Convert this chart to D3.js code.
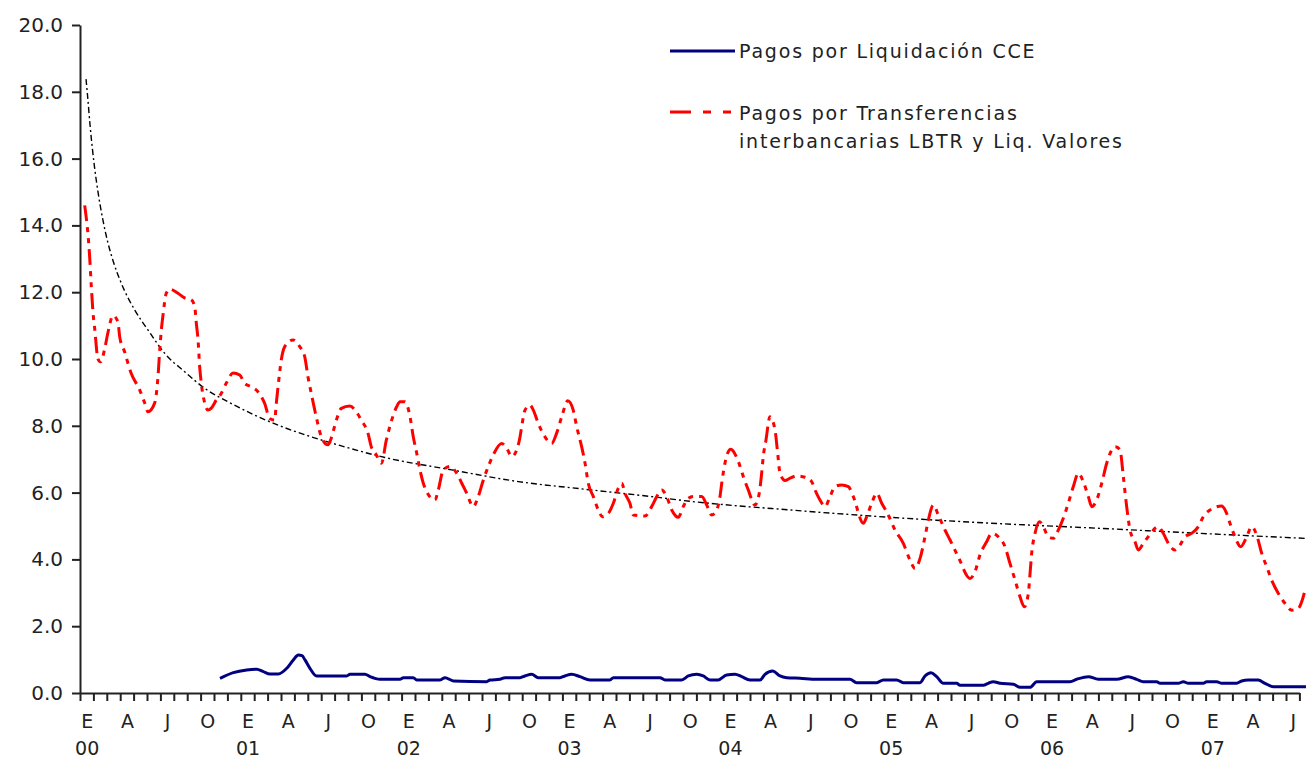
<!DOCTYPE html>
<html>
<head>
<meta charset="utf-8">
<script src="https://cdn.jsdelivr.net/npm/d3@7"></script>
<style>
  html, body { margin: 0; padding: 0; background: #fff; }
  svg { display: block; }
  text { font-family: "DejaVu Sans", Verdana, sans-serif; fill: #222; }
</style>
</head>
<body>
<svg id="chart" width="1306" height="759"></svg>
<script>
// ---- Data (month index: 0 = Enero 2000) ----
const monthLabels = ["E", "A", "J", "O"];           // shown every 3 months
const yearLabels = ["00", "01", "02", "03", "04", "05", "06", "07"];
const nMonths = 91;                                   // Ene 2000 .. Jul 2007
const yTicks = [0, 2, 4, 6, 8, 10, 12, 14, 16, 18, 20];

const seriesNames = [
  "Pagos por Liquidación CCE",
  "Pagos por Transferencias",
  "interbancarias LBTR y Liq. Valores"
];

// Pagos por Transferencias interbancarias LBTR y Liq. Valores
const lbtrMonth = [0.35,0.72,0.84,0.97,1.10,1.34,1.54,1.84,2.09,2.46,2.84,2.96,3.34,3.81,4.46,4.83,5.07,5.57,5.82,5.95,6.07,6.19,6.44,6.69,7.31,7.81,8.31,8.56,8.68,8.81,8.93,9.05,9.31,9.55,9.80,10.17,10.54,10.92,11.42,11.92,12.29,12.78,13.28,13.78,14.16,14.53,14.65,14.78,15.02,15.28,15.90,16.40,16.77,17.01,17.26,17.63,18.01,18.51,18.75,19.13,19.50,20.13,20.62,20.99,21.49,21.74,22.11,22.49,22.86,23.26,23.63,23.88,24.25,24.63,24.87,25.13,25.37,25.62,25.87,26.49,26.74,27.11,27.61,28.11,28.49,28.86,29.35,29.72,30.10,30.47,30.84,31.47,31.84,32.22,32.59,32.84,32.96,33.21,33.58,33.83,34.20,34.70,35.20,35.57,35.95,36.40,36.81,37.07,37.44,37.69,37.93,38.31,38.68,38.98,39.43,39.80,40.17,40.43,40.67,41.04,41.29,42.16,42.66,43.04,43.41,43.78,44.16,44.65,45.02,45.40,45.77,46.40,46.77,47.14,47.51,47.76,47.89,48.13,48.56,49.13,49.50,49.87,50.37,50.69,50.87,50.99,51.19,51.49,51.87,52.04,52.24,52.61,52.99,53.49,54.10,54.60,54.85,55.22,55.60,55.97,56.34,56.84,57.34,57.71,58.46,58.71,59.08,59.46,59.83,60.32,60.82,61.44,61.94,62.31,62.69,63.06,63.31,63.68,64.05,64.55,64.93,65.54,66.42,66.79,67.16,67.66,68.04,68.53,69.03,69.40,69.78,70.15,70.47,70.77,70.90,71.02,71.27,71.59,71.89,72.26,72.63,73.01,73.38,73.75,74.13,74.50,74.87,75.25,75.50,75.87,76.25,76.62,77.24,77.61,77.86,78.11,78.36,78.73,78.98,79.35,79.72,80.47,80.84,81.22,81.72,82.09,82.46,82.96,83.46,83.83,84.33,85.20,85.57,85.82,86.19,86.62,87.07,87.44,87.81,88.19,88.56,88.93,89.43,89.93,90.43,90.92,91.17,91.42];
const lbtrValue = [14.6,13.06,12.2,11.4,10.9,10.0,9.92,10.3,10.8,11.3,11.1,10.67,10.2,9.58,9.07,8.68,8.42,8.68,9.47,10.27,10.87,11.3,11.97,12.09,11.97,11.83,11.77,11.57,11.07,10.57,9.77,9.28,8.68,8.47,8.53,8.77,8.97,9.28,9.58,9.52,9.27,9.17,9.02,8.67,8.22,8.17,8.68,9.17,9.97,10.37,10.57,10.37,10.07,9.47,8.97,8.27,7.67,7.43,7.63,8.17,8.52,8.59,8.42,8.17,7.78,7.37,7.13,6.88,7.57,8.17,8.57,8.72,8.72,8.27,7.67,7.18,6.68,6.28,6.03,5.78,6.08,6.68,6.78,6.58,6.28,5.98,5.58,5.88,6.38,6.78,7.13,7.47,7.33,7.08,7.28,7.67,7.97,8.47,8.62,8.47,8.07,7.67,7.47,7.78,8.27,8.75,8.47,7.97,7.37,6.88,6.28,5.88,5.48,5.28,5.38,5.68,6.13,6.28,5.98,5.68,5.33,5.30,5.58,5.88,6.08,5.88,5.48,5.26,5.58,5.83,5.88,5.88,5.63,5.33,5.48,5.88,6.28,6.88,7.30,6.93,6.48,6.08,5.63,5.98,6.58,7.08,7.57,8.27,7.87,7.28,6.58,6.36,6.43,6.50,6.46,6.33,6.08,5.78,5.58,5.88,6.18,6.23,6.18,5.88,5.08,5.28,5.68,5.98,5.68,5.33,4.88,4.48,3.98,3.73,4.03,4.68,5.18,5.63,5.33,4.88,4.58,4.08,3.43,3.63,4.13,4.53,4.78,4.68,4.38,3.88,3.38,2.88,2.58,2.98,3.58,4.18,4.78,5.13,4.98,4.68,4.63,4.88,5.23,5.68,6.18,6.58,6.33,5.88,5.58,5.78,6.28,6.88,7.37,7.28,6.48,5.58,4.88,4.53,4.28,4.48,4.68,4.98,4.78,4.48,4.28,4.43,4.68,4.78,4.98,5.28,5.48,5.60,5.38,5.08,4.68,4.38,4.68,4.98,4.73,4.18,3.78,3.38,2.98,2.68,2.48,2.53,2.73,3.08];

// Pagos por Liquidación CCE
const cceMonth = [10.45,11.44,12.44,13.19,13.68,14.18,14.80,15.43,15.92,16.29,16.57,16.79,17.16,17.66,19.90,20.15,21.27,21.64,22.39,23.88,24.13,24.87,25.13,26.87,27.24,27.86,30.35,30.60,31.34,31.72,32.84,33.21,33.71,34.20,35.82,36.19,36.69,37.31,38.06,39.55,39.80,43.28,43.66,44.90,45.40,46.02,46.51,47.01,47.63,48.26,48.88,49.38,50.00,50.75,51.12,51.69,52.24,52.74,53.73,54.98,57.46,57.96,59.46,59.95,60.95,61.44,62.69,63.06,63.51,63.93,64.43,65.43,65.67,67.41,67.78,68.16,68.66,69.65,70.15,70.90,71.40,73.88,74.38,75.25,75.99,77.37,78.23,78.86,79.35,80.35,80.60,81.96,82.34,82.71,83.83,84.08,84.83,85.20,86.32,86.69,87.19,87.93,88.43,89.05,91.49];
const cceValue = [0.44,0.61,0.69,0.71,0.64,0.57,0.57,0.74,0.99,1.14,1.12,0.99,0.74,0.51,0.51,0.56,0.56,0.49,0.41,0.41,0.46,0.46,0.39,0.39,0.46,0.36,0.34,0.39,0.41,0.46,0.46,0.51,0.56,0.46,0.46,0.51,0.56,0.49,0.39,0.39,0.46,0.46,0.39,0.39,0.51,0.56,0.51,0.39,0.39,0.54,0.56,0.49,0.39,0.39,0.56,0.66,0.51,0.46,0.44,0.41,0.41,0.31,0.31,0.39,0.39,0.31,0.31,0.51,0.61,0.49,0.29,0.29,0.23,0.23,0.29,0.34,0.29,0.26,0.17,0.17,0.34,0.34,0.41,0.49,0.41,0.41,0.49,0.41,0.34,0.34,0.29,0.29,0.34,0.29,0.29,0.34,0.34,0.29,0.29,0.36,0.39,0.39,0.29,0.19,0.19];

// Tendencia (LBTR)
const trendMonth = [0.45,0.55,0.75,1.07,1.34,1.72,2.09,2.46,3.08,4.08,5.07,6.32,7.81,9.31,11.04,13.04,14.78,17.26,19.75,22.76,27.74,32.71,37.69,42.66,45.52,52.99,60.45,68.66,76.12,83.58,91.42];
const trendValue = [18.38,17.95,17.0,15.79,15.01,14.14,13.47,12.95,12.27,11.47,10.87,10.17,9.62,9.12,8.72,8.32,8.02,7.67,7.37,7.05,6.68,6.33,6.10,5.88,5.74,5.48,5.26,5.07,4.93,4.78,4.63];

// ---- Drawing ----
const svg = d3.select("#chart");
const x = d3.scaleLinear().domain([0, nMonths]).range([80, 1299.4]);
const y = d3.scaleLinear().domain([0, 20]).range([693, 25]);

// Y axis
const yAxis = svg.append("g").attr("transform", "translate(80,0)")
  .call(d3.axisLeft(y).tickValues(yTicks).tickFormat(d3.format(".1f")).tickSize(8).tickSizeOuter(0).tickPadding(9));
yAxis.select(".domain").attr("stroke", "#222").attr("stroke-width", 2);
yAxis.selectAll(".tick line").attr("stroke", "#222").attr("stroke-width", 2);
yAxis.selectAll("text").style("font-size", "20px").attr("fill", "#222").attr("font-family", null);

// X axis: month ticks
const xAxis = svg.append("g").attr("transform", "translate(0,693)")
  .call(d3.axisBottom(x).tickValues(d3.range(0, nMonths + 1)).tickFormat("").tickSize(8).tickSizeOuter(0));
xAxis.select(".domain").attr("stroke", "#222").attr("stroke-width", 2);
xAxis.selectAll(".tick line").attr("stroke", "#222").attr("stroke-width", 2);

// Month letters (centred in each month)
const quarterMonths = d3.range(0, nMonths, 3);
const mAxis = svg.append("g").attr("transform", "translate(0,693)")
  .call(d3.axisBottom(x).tickValues(quarterMonths.map(m => m + 0.5))
    .tickFormat((d) => monthLabels[Math.round(d - 0.5) / 3 % 4]).tickSize(0).tickPadding(22));
mAxis.select(".domain").remove();
mAxis.selectAll("text").style("font-size", "19px").attr("fill", "#222").attr("font-family", null);

// Year labels under each "E"
const yrAxis = svg.append("g").attr("transform", "translate(0,693)")
  .call(d3.axisBottom(x).tickValues(yearLabels.map((_, i) => i * 12 + 0.5))
    .tickFormat((d, i) => yearLabels[i]).tickSize(0).tickPadding(49));
yrAxis.select(".domain").remove();
yrAxis.selectAll("text").style("font-size", "19px").attr("fill", "#222").attr("font-family", null);

// Lines
const trendData = trendMonth.map((m, i) => [m, trendValue[i]]);
svg.append("path")
  .attr("d", d3.line().x(d => x(d[0])).y(d => y(d[1])).curve(d3.curveMonotoneX)(trendData))
  .attr("fill", "none").attr("stroke", "#000").attr("stroke-width", 1.4)
  .attr("stroke-dasharray", "6,3,2,3");

const lbtrData = lbtrMonth.map((m, i) => [m, lbtrValue[i]]);
svg.append("path")
  .attr("d", d3.line().x(d => x(d[0])).y(d => y(d[1])).curve(d3.curveMonotoneX)(lbtrData))
  .attr("fill", "none").attr("stroke", "#ff0000").attr("stroke-width", 3)
  .attr("stroke-dasharray", "16,6,5,6,5,6");

const cceData = cceMonth.map((m, i) => [m, cceValue[i]]);
svg.append("path")
  .attr("d", d3.line().x(d => x(d[0])).y(d => y(d[1])).curve(d3.curveMonotoneX)(cceData))
  .attr("fill", "none").attr("stroke", "#000080").attr("stroke-width", 3);

// Legend
const lg = svg.append("g");
lg.append("line").attr("x1", 670).attr("x2", 735).attr("y1", 51).attr("y2", 51)
  .attr("stroke", "#000080").attr("stroke-width", 3);
lg.append("line").attr("x1", 670).attr("x2", 735).attr("y1", 112).attr("y2", 112)
  .attr("stroke", "#ff0000").attr("stroke-width", 3).attr("stroke-dasharray", "21,12,8,12,8,12");
const lgText = [[seriesNames[0], 58], [seriesNames[1], 120], [seriesNames[2], 148]];
lg.selectAll("text.lg").data(lgText).enter().append("text")
  .attr("class", "lg").attr("x", 739).attr("y", d => d[1])
  .style("font-size", "19px").style("letter-spacing", "1.8px")
  .text(d => d[0]);
</script>
</body>
</html>
